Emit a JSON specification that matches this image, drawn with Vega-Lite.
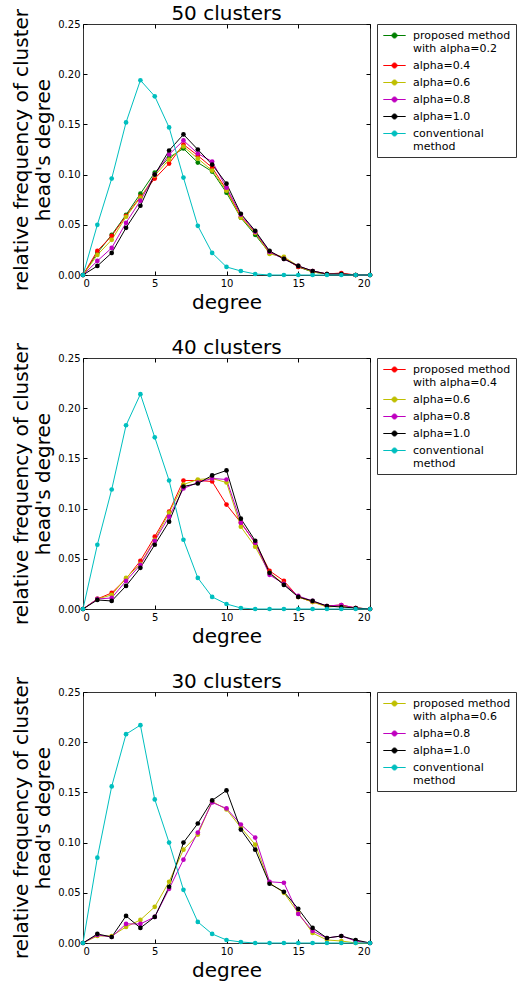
{
  "$schema": "https://vega.github.io/schema/vega-lite/v6.json",
  "padding": {"left": 11, "top": 3, "right": 0, "bottom": 0},
  "background": "white",
  "config": {
    "font": "DejaVu Sans",
    "view": {"stroke": "#333", "strokeWidth": 1},
    "axis": {"labelFont": "DejaVu Sans", "labelFontSize": 10, "labelColor": "#000", "titleFont": "DejaVu Sans", "titleFontSize": 20, "titleFontWeight": "normal", "titleColor": "#000", "tickSize": -4, "tickColor": "#000", "labelPadding": 7, "domain": false, "grid": false},
    "axisY": {"titleLineHeight": 22, "titlePadding": 4},
    "title": {"font": "DejaVu Sans", "fontSize": 20, "fontWeight": "normal", "color": "#000", "offset": -16, "anchor": "middle"},
    "legend": {"orient": "right", "offset": 5, "padding": 5, "strokeColor": "#333", "strokeWidth": 1, "labelFont": "DejaVu Sans", "labelFontSize": 11, "labelColor": "#000", "labelOffset": 12, "symbolOffset": 6, "rowPadding": 5, "symbolType": "M-2,0L2,0M-0.45,0A0.45,0.45 0 1,0 0.45,0A0.45,0.45 0 1,0 -0.45,0", "symbolSize": 125, "symbolStrokeWidth": 1, "titlePadding": 0}
  },
  "datasets": {
    "p50": [
      {"series":"alpha=0.2","degree":0,"freq":0},{"series":"alpha=0.2","degree":1,"freq":0.022},{"series":"alpha=0.2","degree":2,"freq":0.040},{"series":"alpha=0.2","degree":3,"freq":0.060},{"series":"alpha=0.2","degree":4,"freq":0.081},{"series":"alpha=0.2","degree":5,"freq":0.102},{"series":"alpha=0.2","degree":6,"freq":0.117},{"series":"alpha=0.2","degree":7,"freq":0.126},{"series":"alpha=0.2","degree":8,"freq":0.112},{"series":"alpha=0.2","degree":9,"freq":0.103},{"series":"alpha=0.2","degree":10,"freq":0.082},{"series":"alpha=0.2","degree":11,"freq":0.057},{"series":"alpha=0.2","degree":12,"freq":0.040},{"series":"alpha=0.2","degree":13,"freq":0.022},{"series":"alpha=0.2","degree":14,"freq":0.017},{"series":"alpha=0.2","degree":15,"freq":0.008},{"series":"alpha=0.2","degree":16,"freq":0.003},{"series":"alpha=0.2","degree":17,"freq":0.001},{"series":"alpha=0.2","degree":18,"freq":0.001},{"series":"alpha=0.2","degree":19,"freq":0},{"series":"alpha=0.2","degree":20,"freq":0},
      {"series":"alpha=0.4","degree":0,"freq":0},{"series":"alpha=0.4","degree":1,"freq":0.024},{"series":"alpha=0.4","degree":2,"freq":0.039},{"series":"alpha=0.4","degree":3,"freq":0.059},{"series":"alpha=0.4","degree":4,"freq":0.078},{"series":"alpha=0.4","degree":5,"freq":0.096},{"series":"alpha=0.4","degree":6,"freq":0.111},{"series":"alpha=0.4","degree":7,"freq":0.130},{"series":"alpha=0.4","degree":8,"freq":0.119},{"series":"alpha=0.4","degree":9,"freq":0.107},{"series":"alpha=0.4","degree":10,"freq":0.085},{"series":"alpha=0.4","degree":11,"freq":0.058},{"series":"alpha=0.4","degree":12,"freq":0.042},{"series":"alpha=0.4","degree":13,"freq":0.023},{"series":"alpha=0.4","degree":14,"freq":0.017},{"series":"alpha=0.4","degree":15,"freq":0.008},{"series":"alpha=0.4","degree":16,"freq":0.004},{"series":"alpha=0.4","degree":17,"freq":0.001},{"series":"alpha=0.4","degree":18,"freq":0.002},{"series":"alpha=0.4","degree":19,"freq":0},{"series":"alpha=0.4","degree":20,"freq":0},
      {"series":"alpha=0.6","degree":0,"freq":0},{"series":"alpha=0.6","degree":1,"freq":0.020},{"series":"alpha=0.6","degree":2,"freq":0.035},{"series":"alpha=0.6","degree":3,"freq":0.058},{"series":"alpha=0.6","degree":4,"freq":0.077},{"series":"alpha=0.6","degree":5,"freq":0.099},{"series":"alpha=0.6","degree":6,"freq":0.115},{"series":"alpha=0.6","degree":7,"freq":0.128},{"series":"alpha=0.6","degree":8,"freq":0.116},{"series":"alpha=0.6","degree":9,"freq":0.104},{"series":"alpha=0.6","degree":10,"freq":0.084},{"series":"alpha=0.6","degree":11,"freq":0.057},{"series":"alpha=0.6","degree":12,"freq":0.042},{"series":"alpha=0.6","degree":13,"freq":0.021},{"series":"alpha=0.6","degree":14,"freq":0.018},{"series":"alpha=0.6","degree":15,"freq":0.009},{"series":"alpha=0.6","degree":16,"freq":0.003},{"series":"alpha=0.6","degree":17,"freq":0.001},{"series":"alpha=0.6","degree":18,"freq":0.001},{"series":"alpha=0.6","degree":19,"freq":0},{"series":"alpha=0.6","degree":20,"freq":0},
      {"series":"alpha=0.8","degree":0,"freq":0},{"series":"alpha=0.8","degree":1,"freq":0.014},{"series":"alpha=0.8","degree":2,"freq":0.027},{"series":"alpha=0.8","degree":3,"freq":0.052},{"series":"alpha=0.8","degree":4,"freq":0.074},{"series":"alpha=0.8","degree":5,"freq":0.100},{"series":"alpha=0.8","degree":6,"freq":0.120},{"series":"alpha=0.8","degree":7,"freq":0.134},{"series":"alpha=0.8","degree":8,"freq":0.121},{"series":"alpha=0.8","degree":9,"freq":0.113},{"series":"alpha=0.8","degree":10,"freq":0.087},{"series":"alpha=0.8","degree":11,"freq":0.060},{"series":"alpha=0.8","degree":12,"freq":0.043},{"series":"alpha=0.8","degree":13,"freq":0.023},{"series":"alpha=0.8","degree":14,"freq":0.016},{"series":"alpha=0.8","degree":15,"freq":0.009},{"series":"alpha=0.8","degree":16,"freq":0.004},{"series":"alpha=0.8","degree":17,"freq":0.001},{"series":"alpha=0.8","degree":18,"freq":0.001},{"series":"alpha=0.8","degree":19,"freq":0},{"series":"alpha=0.8","degree":20,"freq":0},
      {"series":"alpha=1.0","degree":0,"freq":0},{"series":"alpha=1.0","degree":1,"freq":0.009},{"series":"alpha=1.0","degree":2,"freq":0.022},{"series":"alpha=1.0","degree":3,"freq":0.047},{"series":"alpha=1.0","degree":4,"freq":0.069},{"series":"alpha=1.0","degree":5,"freq":0.100},{"series":"alpha=1.0","degree":6,"freq":0.124},{"series":"alpha=1.0","degree":7,"freq":0.140},{"series":"alpha=1.0","degree":8,"freq":0.125},{"series":"alpha=1.0","degree":9,"freq":0.110},{"series":"alpha=1.0","degree":10,"freq":0.091},{"series":"alpha=1.0","degree":11,"freq":0.061},{"series":"alpha=1.0","degree":12,"freq":0.044},{"series":"alpha=1.0","degree":13,"freq":0.024},{"series":"alpha=1.0","degree":14,"freq":0.016},{"series":"alpha=1.0","degree":15,"freq":0.009},{"series":"alpha=1.0","degree":16,"freq":0.004},{"series":"alpha=1.0","degree":17,"freq":0.001},{"series":"alpha=1.0","degree":18,"freq":0.001},{"series":"alpha=1.0","degree":19,"freq":0},{"series":"alpha=1.0","degree":20,"freq":0},
      {"series":"conventional method","degree":0,"freq":0},{"series":"conventional method","degree":1,"freq":0.050},{"series":"conventional method","degree":2,"freq":0.096},{"series":"conventional method","degree":3,"freq":0.152},{"series":"conventional method","degree":4,"freq":0.194},{"series":"conventional method","degree":5,"freq":0.178},{"series":"conventional method","degree":6,"freq":0.147},{"series":"conventional method","degree":7,"freq":0.097},{"series":"conventional method","degree":8,"freq":0.049},{"series":"conventional method","degree":9,"freq":0.022},{"series":"conventional method","degree":10,"freq":0.008},{"series":"conventional method","degree":11,"freq":0.004},{"series":"conventional method","degree":12,"freq":0.001},{"series":"conventional method","degree":13,"freq":0},{"series":"conventional method","degree":14,"freq":0},{"series":"conventional method","degree":15,"freq":0},{"series":"conventional method","degree":16,"freq":0},{"series":"conventional method","degree":17,"freq":0},{"series":"conventional method","degree":18,"freq":0},{"series":"conventional method","degree":19,"freq":0},{"series":"conventional method","degree":20,"freq":0}
    ],
    "p40": [
      {"series":"alpha=0.4","degree":0,"freq":0},{"series":"alpha=0.4","degree":1,"freq":0.010},{"series":"alpha=0.4","degree":2,"freq":0.016},{"series":"alpha=0.4","degree":3,"freq":0.030},{"series":"alpha=0.4","degree":4,"freq":0.048},{"series":"alpha=0.4","degree":5,"freq":0.072},{"series":"alpha=0.4","degree":6,"freq":0.097},{"series":"alpha=0.4","degree":7,"freq":0.128},{"series":"alpha=0.4","degree":8,"freq":0.128},{"series":"alpha=0.4","degree":9,"freq":0.127},{"series":"alpha=0.4","degree":10,"freq":0.104},{"series":"alpha=0.4","degree":11,"freq":0.086},{"series":"alpha=0.4","degree":12,"freq":0.066},{"series":"alpha=0.4","degree":13,"freq":0.038},{"series":"alpha=0.4","degree":14,"freq":0.028},{"series":"alpha=0.4","degree":15,"freq":0.012},{"series":"alpha=0.4","degree":16,"freq":0.007},{"series":"alpha=0.4","degree":17,"freq":0.003},{"series":"alpha=0.4","degree":18,"freq":0.004},{"series":"alpha=0.4","degree":19,"freq":0.001},{"series":"alpha=0.4","degree":20,"freq":0},
      {"series":"alpha=0.6","degree":0,"freq":0},{"series":"alpha=0.6","degree":1,"freq":0.010},{"series":"alpha=0.6","degree":2,"freq":0.014},{"series":"alpha=0.6","degree":3,"freq":0.031},{"series":"alpha=0.6","degree":4,"freq":0.045},{"series":"alpha=0.6","degree":5,"freq":0.069},{"series":"alpha=0.6","degree":6,"freq":0.096},{"series":"alpha=0.6","degree":7,"freq":0.124},{"series":"alpha=0.6","degree":8,"freq":0.129},{"series":"alpha=0.6","degree":9,"freq":0.130},{"series":"alpha=0.6","degree":10,"freq":0.126},{"series":"alpha=0.6","degree":11,"freq":0.082},{"series":"alpha=0.6","degree":12,"freq":0.062},{"series":"alpha=0.6","degree":13,"freq":0.036},{"series":"alpha=0.6","degree":14,"freq":0.025},{"series":"alpha=0.6","degree":15,"freq":0.012},{"series":"alpha=0.6","degree":16,"freq":0.007},{"series":"alpha=0.6","degree":17,"freq":0.002},{"series":"alpha=0.6","degree":18,"freq":0.003},{"series":"alpha=0.6","degree":19,"freq":0.001},{"series":"alpha=0.6","degree":20,"freq":0},
      {"series":"alpha=0.8","degree":0,"freq":0},{"series":"alpha=0.8","degree":1,"freq":0.010},{"series":"alpha=0.8","degree":2,"freq":0.011},{"series":"alpha=0.8","degree":3,"freq":0.028},{"series":"alpha=0.8","degree":4,"freq":0.044},{"series":"alpha=0.8","degree":5,"freq":0.068},{"series":"alpha=0.8","degree":6,"freq":0.092},{"series":"alpha=0.8","degree":7,"freq":0.120},{"series":"alpha=0.8","degree":8,"freq":0.126},{"series":"alpha=0.8","degree":9,"freq":0.130},{"series":"alpha=0.8","degree":10,"freq":0.129},{"series":"alpha=0.8","degree":11,"freq":0.086},{"series":"alpha=0.8","degree":12,"freq":0.066},{"series":"alpha=0.8","degree":13,"freq":0.034},{"series":"alpha=0.8","degree":14,"freq":0.025},{"series":"alpha=0.8","degree":15,"freq":0.013},{"series":"alpha=0.8","degree":16,"freq":0.008},{"series":"alpha=0.8","degree":17,"freq":0.003},{"series":"alpha=0.8","degree":18,"freq":0.004},{"series":"alpha=0.8","degree":19,"freq":0.001},{"series":"alpha=0.8","degree":20,"freq":0},
      {"series":"alpha=1.0","degree":0,"freq":0},{"series":"alpha=1.0","degree":1,"freq":0.009},{"series":"alpha=1.0","degree":2,"freq":0.008},{"series":"alpha=1.0","degree":3,"freq":0.023},{"series":"alpha=1.0","degree":4,"freq":0.041},{"series":"alpha=1.0","degree":5,"freq":0.064},{"series":"alpha=1.0","degree":6,"freq":0.087},{"series":"alpha=1.0","degree":7,"freq":0.122},{"series":"alpha=1.0","degree":8,"freq":0.125},{"series":"alpha=1.0","degree":9,"freq":0.133},{"series":"alpha=1.0","degree":10,"freq":0.138},{"series":"alpha=1.0","degree":11,"freq":0.090},{"series":"alpha=1.0","degree":12,"freq":0.068},{"series":"alpha=1.0","degree":13,"freq":0.036},{"series":"alpha=1.0","degree":14,"freq":0.024},{"series":"alpha=1.0","degree":15,"freq":0.012},{"series":"alpha=1.0","degree":16,"freq":0.008},{"series":"alpha=1.0","degree":17,"freq":0.003},{"series":"alpha=1.0","degree":18,"freq":0.002},{"series":"alpha=1.0","degree":19,"freq":0.001},{"series":"alpha=1.0","degree":20,"freq":0},
      {"series":"conventional method","degree":0,"freq":0},{"series":"conventional method","degree":1,"freq":0.064},{"series":"conventional method","degree":2,"freq":0.119},{"series":"conventional method","degree":3,"freq":0.183},{"series":"conventional method","degree":4,"freq":0.214},{"series":"conventional method","degree":5,"freq":0.171},{"series":"conventional method","degree":6,"freq":0.128},{"series":"conventional method","degree":7,"freq":0.069},{"series":"conventional method","degree":8,"freq":0.031},{"series":"conventional method","degree":9,"freq":0.012},{"series":"conventional method","degree":10,"freq":0.005},{"series":"conventional method","degree":11,"freq":0.001},{"series":"conventional method","degree":12,"freq":0},{"series":"conventional method","degree":13,"freq":0},{"series":"conventional method","degree":14,"freq":0},{"series":"conventional method","degree":15,"freq":0},{"series":"conventional method","degree":16,"freq":0},{"series":"conventional method","degree":17,"freq":0},{"series":"conventional method","degree":18,"freq":0},{"series":"conventional method","degree":19,"freq":0},{"series":"conventional method","degree":20,"freq":0}
    ],
    "p30": [
      {"series":"alpha=0.6","degree":0,"freq":0},{"series":"alpha=0.6","degree":1,"freq":0.007},{"series":"alpha=0.6","degree":2,"freq":0.007},{"series":"alpha=0.6","degree":3,"freq":0.016},{"series":"alpha=0.6","degree":4,"freq":0.023},{"series":"alpha=0.6","degree":5,"freq":0.036},{"series":"alpha=0.6","degree":6,"freq":0.061},{"series":"alpha=0.6","degree":7,"freq":0.093},{"series":"alpha=0.6","degree":8,"freq":0.108},{"series":"alpha=0.6","degree":9,"freq":0.141},{"series":"alpha=0.6","degree":10,"freq":0.133},{"series":"alpha=0.6","degree":11,"freq":0.115},{"series":"alpha=0.6","degree":12,"freq":0.098},{"series":"alpha=0.6","degree":13,"freq":0.060},{"series":"alpha=0.6","degree":14,"freq":0.050},{"series":"alpha=0.6","degree":15,"freq":0.030},{"series":"alpha=0.6","degree":16,"freq":0.010},{"series":"alpha=0.6","degree":17,"freq":0.003},{"series":"alpha=0.6","degree":18,"freq":0.002},{"series":"alpha=0.6","degree":19,"freq":0},{"series":"alpha=0.6","degree":20,"freq":0},
      {"series":"alpha=0.8","degree":0,"freq":0},{"series":"alpha=0.8","degree":1,"freq":0.008},{"series":"alpha=0.8","degree":2,"freq":0.006},{"series":"alpha=0.8","degree":3,"freq":0.019},{"series":"alpha=0.8","degree":4,"freq":0.019},{"series":"alpha=0.8","degree":5,"freq":0.026},{"series":"alpha=0.8","degree":6,"freq":0.054},{"series":"alpha=0.8","degree":7,"freq":0.083},{"series":"alpha=0.8","degree":8,"freq":0.110},{"series":"alpha=0.8","degree":9,"freq":0.140},{"series":"alpha=0.8","degree":10,"freq":0.134},{"series":"alpha=0.8","degree":11,"freq":0.118},{"series":"alpha=0.8","degree":12,"freq":0.105},{"series":"alpha=0.8","degree":13,"freq":0.061},{"series":"alpha=0.8","degree":14,"freq":0.060},{"series":"alpha=0.8","degree":15,"freq":0.029},{"series":"alpha=0.8","degree":16,"freq":0.012},{"series":"alpha=0.8","degree":17,"freq":0.005},{"series":"alpha=0.8","degree":18,"freq":0.007},{"series":"alpha=0.8","degree":19,"freq":0.002},{"series":"alpha=0.8","degree":20,"freq":0},
      {"series":"alpha=1.0","degree":0,"freq":0},{"series":"alpha=1.0","degree":1,"freq":0.009},{"series":"alpha=1.0","degree":2,"freq":0.006},{"series":"alpha=1.0","degree":3,"freq":0.027},{"series":"alpha=1.0","degree":4,"freq":0.015},{"series":"alpha=1.0","degree":5,"freq":0.026},{"series":"alpha=1.0","degree":6,"freq":0.056},{"series":"alpha=1.0","degree":7,"freq":0.100},{"series":"alpha=1.0","degree":8,"freq":0.119},{"series":"alpha=1.0","degree":9,"freq":0.142},{"series":"alpha=1.0","degree":10,"freq":0.152},{"series":"alpha=1.0","degree":11,"freq":0.113},{"series":"alpha=1.0","degree":12,"freq":0.093},{"series":"alpha=1.0","degree":13,"freq":0.059},{"series":"alpha=1.0","degree":14,"freq":0.051},{"series":"alpha=1.0","degree":15,"freq":0.034},{"series":"alpha=1.0","degree":16,"freq":0.015},{"series":"alpha=1.0","degree":17,"freq":0.005},{"series":"alpha=1.0","degree":18,"freq":0.007},{"series":"alpha=1.0","degree":19,"freq":0.003},{"series":"alpha=1.0","degree":20,"freq":0},
      {"series":"conventional method","degree":0,"freq":0},{"series":"conventional method","degree":1,"freq":0.085},{"series":"conventional method","degree":2,"freq":0.156},{"series":"conventional method","degree":3,"freq":0.208},{"series":"conventional method","degree":4,"freq":0.217},{"series":"conventional method","degree":5,"freq":0.143},{"series":"conventional method","degree":6,"freq":0.100},{"series":"conventional method","degree":7,"freq":0.053},{"series":"conventional method","degree":8,"freq":0.021},{"series":"conventional method","degree":9,"freq":0.009},{"series":"conventional method","degree":10,"freq":0.003},{"series":"conventional method","degree":11,"freq":0.001},{"series":"conventional method","degree":12,"freq":0},{"series":"conventional method","degree":13,"freq":0},{"series":"conventional method","degree":14,"freq":0},{"series":"conventional method","degree":15,"freq":0},{"series":"conventional method","degree":16,"freq":0},{"series":"conventional method","degree":17,"freq":0},{"series":"conventional method","degree":18,"freq":0},{"series":"conventional method","degree":19,"freq":0},{"series":"conventional method","degree":20,"freq":0}
    ]
  },
  "resolve": {"scale": {"color": "independent"}, "legend": {"color": "independent"}},
  "bounds": "flush",
  "spacing": 83,
  "vconcat": [
    {
      "title": "50 clusters",
      "width": 287, "height": 251,
      "data": {"name": "p50"},
      "layer": [
        {"mark": {"type": "line", "strokeWidth": 1, "point": {"filled": true, "size": 22}},
         "encoding": {
           "x": {"field": "degree", "type": "quantitative", "scale": {"domain": [0, 20], "nice": false}, "axis": {"values": [0, 5, 10, 15, 20], "title": "degree"}},
           "y": {"field": "freq", "type": "quantitative", "scale": {"domain": [0, 0.25], "nice": false}, "axis": {"values": [0, 0.05, 0.1, 0.15, 0.2, 0.25], "format": ".2f", "title": ["relative frequency of cluster", "head's degree"]}},
           "color": {"field": "series", "type": "nominal", "scale": {"domain": ["alpha=0.2", "alpha=0.4", "alpha=0.6", "alpha=0.8", "alpha=1.0", "conventional method"], "range": ["#008000", "#ff0000", "#bfbf00", "#bf00bf", "#000000", "#00bfbf"]},
             "legend": {"title": null, "labelExpr": "datum.label == 'alpha=0.2' ? ['proposed method', 'with alpha=0.2'] : datum.label == 'conventional method' ? ['conventional', 'method'] : datum.label",
               "encode": {"labels": {"update": {"lineHeight": {"value": 13}}}, "symbols": {"update": {"fill": {"signal": "datum.value == 'alpha=0.2' ? '#008000' : datum.value == 'alpha=0.4' ? '#ff0000' : datum.value == 'alpha=0.6' ? '#bfbf00' : datum.value == 'alpha=0.8' ? '#bf00bf' : datum.value == 'alpha=1.0' ? '#000000' : '#00bfbf'"}}}}}}
         }},
        {"mark": {"type": "point", "opacity": 0},
         "encoding": {
           "x": {"field": "degree", "type": "quantitative", "axis": {"orient": "top", "values": [0, 5, 10, 15, 20], "labels": false, "title": null, "minExtent": 0, "maxExtent": 0}},
           "y": {"field": "freq", "type": "quantitative", "axis": {"orient": "right", "values": [0, 0.05, 0.1, 0.15, 0.2, 0.25], "labels": false, "title": null, "minExtent": 0, "maxExtent": 0}}
         }}
      ],
      "resolve": {"axis": {"x": "independent", "y": "independent"}}
    },
    {
      "title": "40 clusters",
      "width": 287, "height": 251,
      "data": {"name": "p40"},
      "layer": [
        {"mark": {"type": "line", "strokeWidth": 1, "point": {"filled": true, "size": 22}},
         "encoding": {
           "x": {"field": "degree", "type": "quantitative", "scale": {"domain": [0, 20], "nice": false}, "axis": {"values": [0, 5, 10, 15, 20], "title": "degree"}},
           "y": {"field": "freq", "type": "quantitative", "scale": {"domain": [0, 0.25], "nice": false}, "axis": {"values": [0, 0.05, 0.1, 0.15, 0.2, 0.25], "format": ".2f", "title": ["relative frequency of cluster", "head's degree"]}},
           "color": {"field": "series", "type": "nominal", "scale": {"domain": ["alpha=0.4", "alpha=0.6", "alpha=0.8", "alpha=1.0", "conventional method"], "range": ["#ff0000", "#bfbf00", "#bf00bf", "#000000", "#00bfbf"]},
             "legend": {"title": null, "labelExpr": "datum.label == 'alpha=0.4' ? ['proposed method', 'with alpha=0.4'] : datum.label == 'conventional method' ? ['conventional', 'method'] : datum.label",
               "encode": {"labels": {"update": {"lineHeight": {"value": 13}}}, "symbols": {"update": {"fill": {"signal": "datum.value == 'alpha=0.2' ? '#008000' : datum.value == 'alpha=0.4' ? '#ff0000' : datum.value == 'alpha=0.6' ? '#bfbf00' : datum.value == 'alpha=0.8' ? '#bf00bf' : datum.value == 'alpha=1.0' ? '#000000' : '#00bfbf'"}}}}}}
         }},
        {"mark": {"type": "point", "opacity": 0},
         "encoding": {
           "x": {"field": "degree", "type": "quantitative", "axis": {"orient": "top", "values": [0, 5, 10, 15, 20], "labels": false, "title": null, "minExtent": 0, "maxExtent": 0}},
           "y": {"field": "freq", "type": "quantitative", "axis": {"orient": "right", "values": [0, 0.05, 0.1, 0.15, 0.2, 0.25], "labels": false, "title": null, "minExtent": 0, "maxExtent": 0}}
         }}
      ],
      "resolve": {"axis": {"x": "independent", "y": "independent"}}
    },
    {
      "title": "30 clusters",
      "width": 287, "height": 251,
      "data": {"name": "p30"},
      "layer": [
        {"mark": {"type": "line", "strokeWidth": 1, "point": {"filled": true, "size": 22}},
         "encoding": {
           "x": {"field": "degree", "type": "quantitative", "scale": {"domain": [0, 20], "nice": false}, "axis": {"values": [0, 5, 10, 15, 20], "title": "degree"}},
           "y": {"field": "freq", "type": "quantitative", "scale": {"domain": [0, 0.25], "nice": false}, "axis": {"values": [0, 0.05, 0.1, 0.15, 0.2, 0.25], "format": ".2f", "title": ["relative frequency of cluster", "head's degree"]}},
           "color": {"field": "series", "type": "nominal", "scale": {"domain": ["alpha=0.6", "alpha=0.8", "alpha=1.0", "conventional method"], "range": ["#bfbf00", "#bf00bf", "#000000", "#00bfbf"]},
             "legend": {"title": null, "labelExpr": "datum.label == 'alpha=0.6' ? ['proposed method', 'with alpha=0.6'] : datum.label == 'conventional method' ? ['conventional', 'method'] : datum.label",
               "encode": {"labels": {"update": {"lineHeight": {"value": 13}}}, "symbols": {"update": {"fill": {"signal": "datum.value == 'alpha=0.2' ? '#008000' : datum.value == 'alpha=0.4' ? '#ff0000' : datum.value == 'alpha=0.6' ? '#bfbf00' : datum.value == 'alpha=0.8' ? '#bf00bf' : datum.value == 'alpha=1.0' ? '#000000' : '#00bfbf'"}}}}}}
         }},
        {"mark": {"type": "point", "opacity": 0},
         "encoding": {
           "x": {"field": "degree", "type": "quantitative", "axis": {"orient": "top", "values": [0, 5, 10, 15, 20], "labels": false, "title": null, "minExtent": 0, "maxExtent": 0}},
           "y": {"field": "freq", "type": "quantitative", "axis": {"orient": "right", "values": [0, 0.05, 0.1, 0.15, 0.2, 0.25], "labels": false, "title": null, "minExtent": 0, "maxExtent": 0}}
         }}
      ],
      "resolve": {"axis": {"x": "independent", "y": "independent"}}
    }
  ]
}
